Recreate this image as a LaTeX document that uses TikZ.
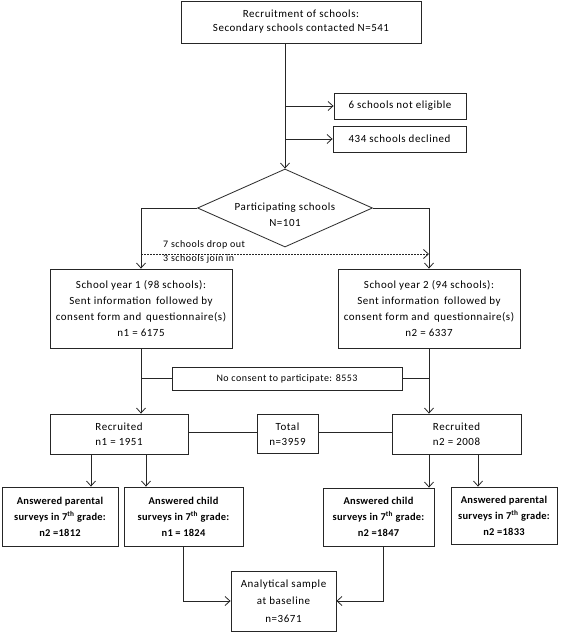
\documentclass[tikz,border=0pt]{standalone}
\usepackage{fontspec}
\setmainfont{Carlito}[LetterSpace=5]
\newfontfamily\boldcal{Carlito}[LetterSpace=2.5]
\usetikzlibrary{shapes.geometric,arrows.meta}
\begin{document}
\begin{tikzpicture}[x=1bp,y=-1bp,
  box/.style={draw=black!85, line width=0.8bp, rectangle, align=center, inner sep=0pt, font=\fontsize{11}{16}\selectfont},
  bbox/.style={box, font=\boldcal\bfseries\fontsize{10.5}{16}\selectfont},
  ln/.style={draw=black!85, line width=0.8bp},
  arr/.style={ln, -{Straight Barb[length=5bp,width=9bp]}},
  lbl/.style={inner sep=0pt, font=\fontsize{10}{12}\selectfont}
]
\useasboundingbox (0,0) rectangle (567,633);
\node[box, font=\fontsize{11}{14}\selectfont, minimum width=240bp, minimum height=42bp] (top) at (301,22) {Recruitment of schools:\\Secondary schools contacted N=541};
\node[box, minimum width=132bp, minimum height=26bp] (noteli) at (400,106) {6 schools not eligible};
\node[box, minimum width=133bp, minimum height=26bp] (decl) at (399.5,139) {434 schools declined};
\node[draw=black!85, line width=0.8bp, diamond, aspect=2.24, minimum width=175bp, minimum height=78bp, inner sep=0pt] (dia) at (285,208) {};
\node[align=center, inner sep=0pt, font=\fontsize{11}{16}\selectfont] (diatext) at ([yshift=-7bp]dia.center) {Participating schools\\N=101};
\node[box, minimum width=182bp, minimum height=79bp] (sy1) at (141,308.5) {School year 1 (98 schools):\\Sent information\, followed by\\consent form and\, questionnaire(s)\\n1 = 6175};
\node[box, minimum width=182bp, minimum height=79bp] (sy2) at (429,308.5) {School year 2 (94 schools):\\Sent information\, followed by\\consent form and\, questionnaire(s)\\n2 = 6337};
\node[box, font=\fontsize{10}{12}\selectfont, minimum width=230bp, minimum height=23bp] (nocon) at (287,378.5) {No consent to participate: 8553};
\node[box, font=\fontsize{11}{15}\selectfont, minimum width=138bp, minimum height=40bp] (rec1) at (119,434) {Recruited\\n1 = 1951};
\node[box, font=\fontsize{11}{15}\selectfont, minimum width=61bp, minimum height=39bp] (tot) at (287.5,434) {Total\\n=3959};
\node[box, font=\fontsize{11}{15}\selectfont, minimum width=129bp, minimum height=40bp] (rec2) at (456.5,434) {Recruited\\n2 = 2008};
\node[bbox, minimum width=116bp, minimum height=59bp] (par1) at (60,516.5) {Answered parental\\surveys in 7\textsuperscript{th} grade:\\n2 =1812};
\node[bbox, minimum width=119bp, minimum height=59bp] (ch1) at (183.5,516.5) {Answered child\\surveys in 7\textsuperscript{th} grade:\\n1 = 1824};
\node[bbox, minimum width=111bp, minimum height=58bp] (ch2) at (378.5,517) {Answered child\\surveys in 7\textsuperscript{th} grade:\\n2 =1847};
\node[bbox, minimum width=106bp, minimum height=57bp] (par2) at (504,515.5) {Answered parental\\surveys in 7\textsuperscript{th} grade:\\n2 =1833};
\node[box, font=\fontsize{11}{17.5}\selectfont, minimum width=105bp, minimum height=60bp] (anal) at (283.5,601) {Analytical sample\\at baseline\\n=3671};
% connectors
\draw[arr] (dia.north |- top.south) -- (dia.north);
\draw[arr] (dia.north |- noteli.west) -- (noteli.west);
\draw[arr] (dia.north |- decl.west) -- (decl.west);
\draw[arr] (dia.west) -| (sy1.north);
\draw[arr] (dia.east) -| (sy2.north);
\coordinate (dl) at (sy1.north |- 0,254);
\coordinate (dr) at (sy2.north |- 0,254);
\draw[arr, dash pattern=on 2bp off 1bp] (dl) -- (dr);
\node[lbl, anchor=west] (drop) at ([xshift=22bp,yshift=9bp]dl) {7 schools drop out};
\node[lbl, anchor=west] (join) at ([xshift=22bp,yshift=-5bp]dl) {3 schools join in};
\draw[arr] (sy1.south) -- (sy1.south |- rec1.north);
\draw[arr] (sy2.south) -- (sy2.south |- rec2.north);
\draw[ln] (sy1.south |- nocon.west) -- (nocon.west);
\draw[ln] (sy2.south |- nocon.east) -- (nocon.east);
\draw[ln] ([yshift=2bp]rec1.east) -- ([yshift=2bp]tot.west);
\draw[ln] ([yshift=2bp]tot.east) -- ([yshift=2bp]rec2.west);
\draw[arr] ([xshift=-28bp]rec1.south) -- ([xshift=-28bp]rec1.south |- par1.north);
\draw[arr] ([xshift=27bp]rec1.south) -- ([xshift=27bp]rec1.south |- ch1.north);
\draw[arr] ([xshift=-27.5bp]rec2.south) -- ([xshift=-27.5bp]rec2.south |- ch2.north);
\draw[arr] ([xshift=21.5bp]rec2.south) -- ([xshift=21.5bp]rec2.south |- par2.north);
\draw[arr] (ch1.south) |- (anal.west);
\draw[arr] ([xshift=5bp]ch2.south) |- (anal.east);
\end{tikzpicture}
\end{document}
